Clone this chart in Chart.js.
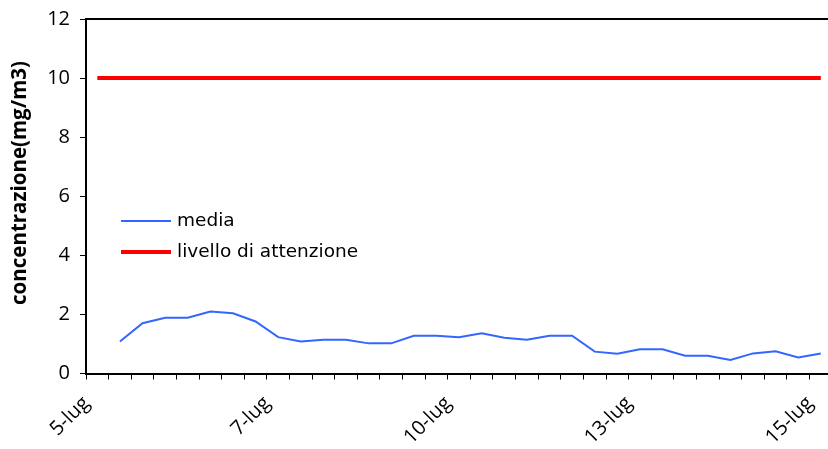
<!DOCTYPE html>
<html>
<head>
<meta charset="utf-8">
<script src="https://cdn.jsdelivr.net/npm/chart.js@4.4.1/dist/chart.umd.min.js"></script>
<style>
  html, body { margin: 0; padding: 0; background: #fff; overflow: hidden; }
  #wrap { width: 850px; height: 449px; position: relative; }
</style>
</head>
<body>
<div id="wrap"><canvas id="myChart"></canvas></div>
<script>
// category labels (only every 8th is shown on the axis)
const dates = [
  '5-lug', '5-lug', '5-lug', '5-lug', '6-lug', '6-lug', '6-lug', '6-lug',
  '7-lug', '7-lug', '7-lug', '8-lug', '8-lug', '8-lug', '9-lug', '9-lug',
  '10-lug', '10-lug', '10-lug', '11-lug', '11-lug', '12-lug', '12-lug', '12-lug',
  '13-lug', '13-lug', '13-lug', '14-lug', '14-lug', '14-lug', '15-lug', '15-lug',
  '15-lug'
];
const media = [
  null, 1.08, 1.70, 1.89, 1.89, 2.10, 2.04, 1.76, 1.23, 1.08, 1.14, 1.14, 1.02, 1.02, 1.28, 1.28,
  1.23, 1.36, 1.21, 1.14, 1.28, 1.28, 0.74, 0.67, 0.82, 0.82, 0.60, 0.60, 0.46, 0.68, 0.75, 0.54,
  0.68
];
const livelloAttenzione = dates.map(() => 10);
const yTicks = [0, 2, 4, 6, 8, 10, 12];
const yTitle = 'concentrazione(mg/m3)';

// legend drawn inside the plot, y title, and the top border of the plot box
const innerLegend = {
  id: 'innerLegend',
  afterDraw(chart) {
    const c = chart.ctx;
    const a = chart.chartArea;
    c.save();
    c.strokeStyle = '#000';
    c.lineWidth = 2;
    c.beginPath();
    c.moveTo(a.left, a.top);
    c.lineTo(a.right, a.top);
    c.stroke();

    const x0 = a.left + 35;
    const rows = [221, 252];
    chart.data.datasets.forEach((ds, i) => {
      const y = rows[i];
      c.strokeStyle = ds.borderColor;
      c.lineWidth = ds.borderWidth;
      c.beginPath();
      c.moveTo(x0, y);
      c.lineTo(x0 + 50, y);
      c.stroke();
      c.fillStyle = '#000';
      c.font = '18.5px "DejaVu Sans"';
      c.textBaseline = 'middle';
      c.fillText(ds.label, x0 + 56, y);
    });

    // rotated axis title
    c.translate(20, 183);
    c.rotate(-Math.PI / 2);
    c.font = 'bold 20.5px "Open Sans"';
    c.textAlign = 'center';
    c.textBaseline = 'middle';
    c.fillStyle = '#000';
    c.fillText(yTitle, 0, 0);
    c.restore();
  }
};

new Chart(document.getElementById('myChart'), {
  type: 'line',
  data: {
    labels: dates,
    datasets: [
      {
        label: 'media',
        data: media,
        borderColor: '#3366ff',
        borderWidth: 2,
        pointRadius: 0,
        tension: 0
      },
      {
        label: 'livello di attenzione',
        data: livelloAttenzione,
        borderColor: '#ff0000',
        borderWidth: 4,
        pointRadius: 0,
        tension: 0
      }
    ]
  },
  options: {
    responsive: true,
    maintainAspectRatio: false,
    animation: false,
    layout: { padding: { top: 19, right: 14, left: 0, bottom: 0 } },
    plugins: {
      legend: { display: false },
      tooltip: { enabled: false }
    },
    scales: {
      x: {
        offset: true,
        grid: { offset: true, drawOnChartArea: false, tickLength: 6, color: '#000', tickWidth: 1 },
        border: { color: '#000', width: 2 },
        ticks: {
          autoSkip: false,
          minRotation: 45,
          maxRotation: 45,
          padding: 12,
          labelOffset: -11,
          color: '#000',
          font: { family: 'Open Sans', size: 20 },
          callback: function (v, i) { return i % 8 === 0 ? dates[i] : ''; }
        },
        afterFit: function (s) { s.height = 75.5; }
      },
      y: {
        min: 0,
        max: 12,
        afterBuildTicks: function (s) { s.ticks = yTicks.map(v => ({ value: v })); },
        grid: { drawOnChartArea: false, tickLength: 6, color: '#000' },
        border: { color: '#000', width: 2 },
        ticks: {
          color: '#000',
          padding: 10,
          font: { family: 'Open Sans', size: 20 }
        },
        afterFit: function (s) {
          s.width = 86;
          s.paddingTop = 0;
          s.paddingBottom = 0;
        }
      }
    }
  },
  plugins: [innerLegend]
});
</script>
</body>
</html>
